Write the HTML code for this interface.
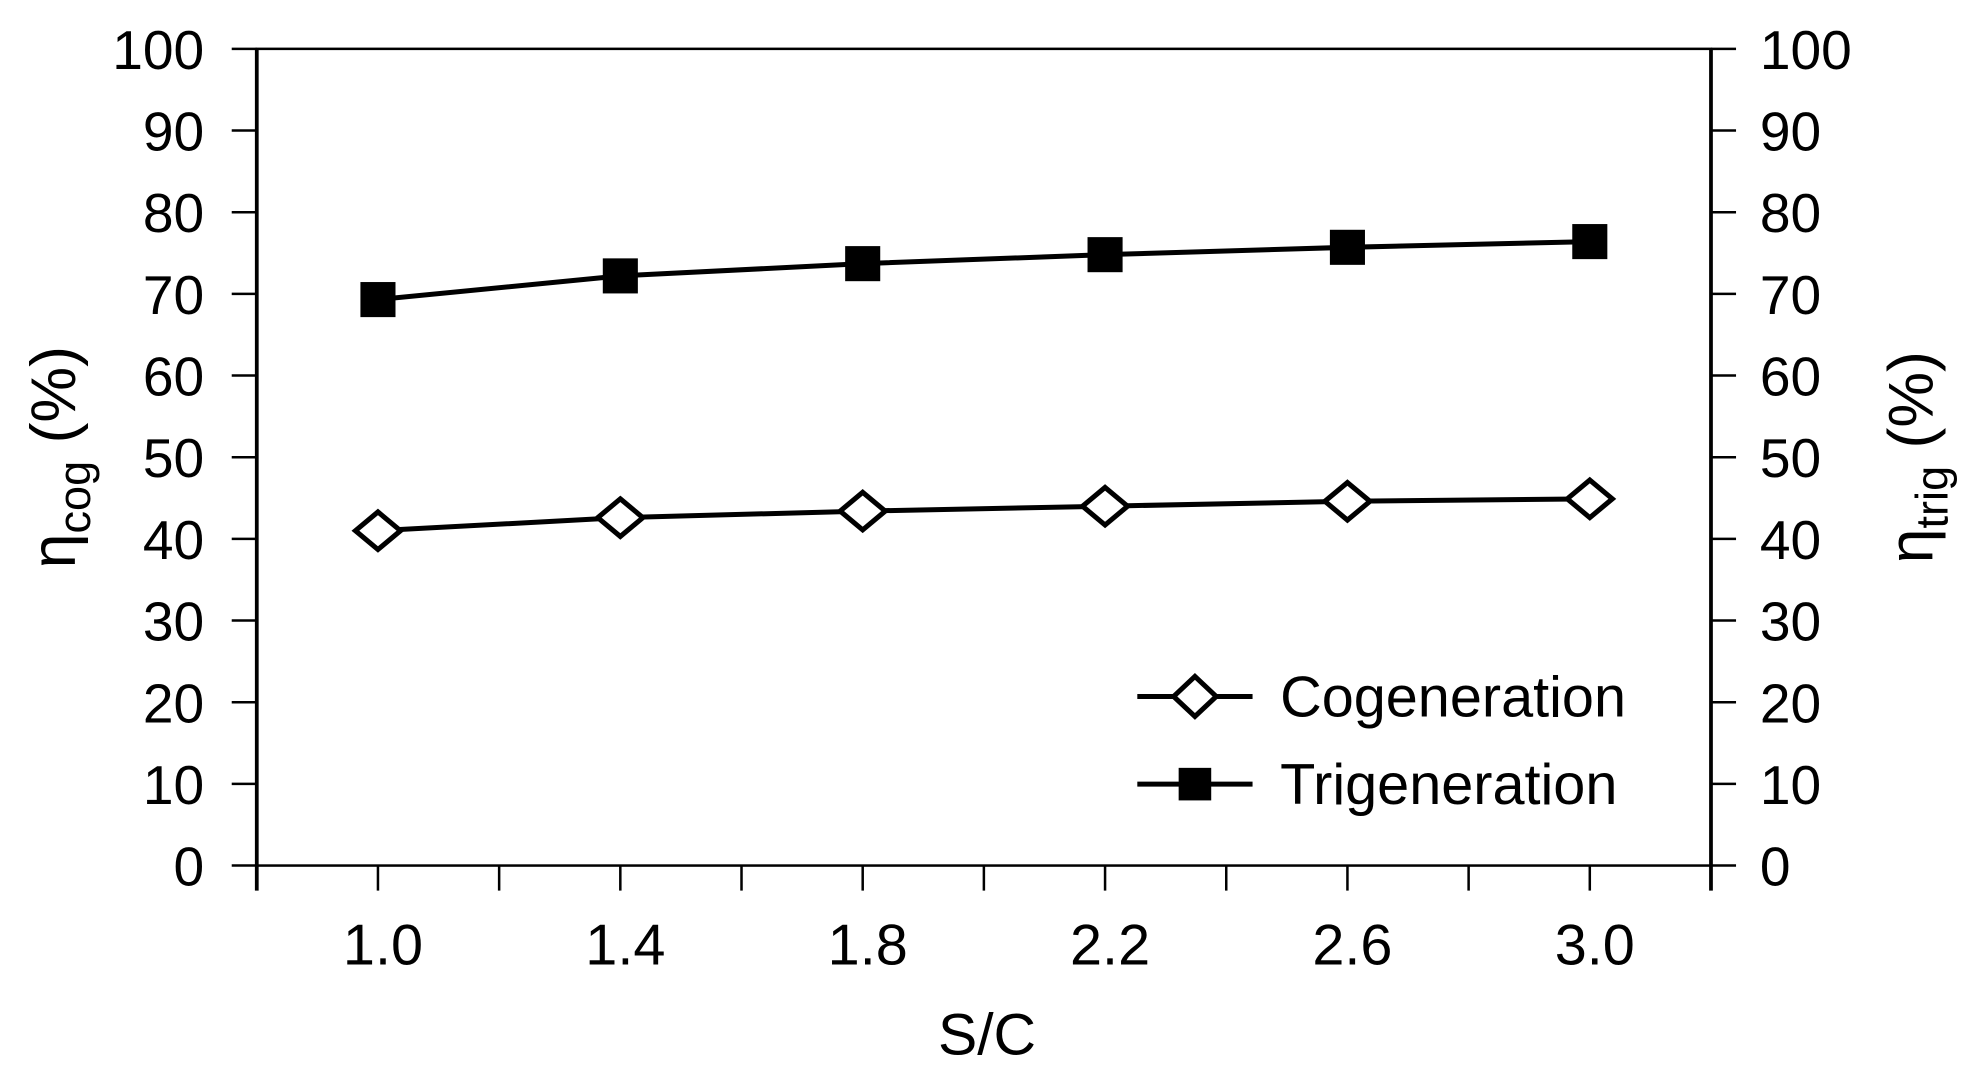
<!DOCTYPE html>
<html><head><meta charset="utf-8"><style>
html,body{margin:0;padding:0;background:#fff;}
svg{display:block;}
text{font-family:"Liberation Sans",Arial,sans-serif;fill:#000;}
</style></head><body>
<svg id="chart" width="1964" height="1078" viewBox="0 0 1568 860.6" preserveAspectRatio="none" xmlns="http://www.w3.org/2000/svg">
<g id="axes"></g>
<g id="series"></g>
<text x="788" y="842" font-size="47" text-anchor="middle">S/C</text>
<text transform="translate(60,365) rotate(-90)" font-size="50" text-anchor="middle">η<tspan font-size="36" dy="12">cog</tspan><tspan dy="-12"> (%)</tspan></text>
<text transform="translate(1543,365) rotate(-90)" font-size="50" text-anchor="middle">η<tspan font-size="36" dy="12">trig</tspan><tspan dy="-12"> (%)</tspan></text>
<g>
<line x1="908" y1="556" x2="1000" y2="556" stroke="#000" stroke-width="4"/>
<polygon points="954,540 971,556 954,572 937,556" fill="#fff" stroke="#000" stroke-width="4"/>
<text x="1022" y="572" font-size="46">Cogeneration</text>
<line x1="908" y1="626" x2="1000" y2="626" stroke="#000" stroke-width="4"/>
<rect x="941" y="613" width="26" height="26" fill="#000"/>
<text x="1022" y="642" font-size="46">Trigeneration</text>
</g>
</svg>
<script>
const categories = [1.0, 1.4, 1.8, 2.2, 2.6, 3.0];
const xTickLabels = ["1.0", "1.4", "1.8", "2.2", "2.6", "3.0"];
const cogeneration = [41.0, 42.6, 43.4, 44.0, 44.6, 44.9];
const trigeneration = [69.3, 72.2, 73.7, 74.8, 75.7, 76.4];
const yTicks = [0, 10, 20, 30, 40, 50, 60, 70, 80, 90, 100];

const NS = "http://www.w3.org/2000/svg";
const L = 205, R = 1366, T = 39, B = 691;
const xMin = 0.8, xMax = 3.2;
function xs(v){ return L + (v - xMin) / (xMax - xMin) * (R - L); }
function ys(v){ return B - v / 100 * (B - T); }
function mk(tag, attrs, parent){
  const e = document.createElementNS(NS, tag);
  for (const k in attrs) e.setAttribute(k, attrs[k]);
  parent.appendChild(e); return e;
}
const axes = document.getElementById('axes');
const series = document.getElementById('series');
let el;
el = mk('rect', {x:L, y:T, width:R-L, height:B-T, fill:'none', stroke:'#000', 'stroke-width':2}, axes);


el = mk('line', {x1:L, y1:T, x2:L, y2:B+20, stroke:'#000', 'stroke-width':3}, axes);


el = mk('line', {x1:R, y1:T, x2:R, y2:B+20, stroke:'#000', 'stroke-width':3}, axes);


yTicks.forEach(v => {
  const y = ys(v);
  el = mk('line', {x1:L-20, y1:y, x2:L, y2:y, stroke:'#000', 'stroke-width':2}, axes);
  
  
  el = mk('line', {x1:R, y1:y, x2:R+20, y2:y, stroke:'#000', 'stroke-width':2}, axes);
  
  
  el = mk('text', {x:163, y:y+16, 'font-size':44, 'text-anchor':'end'}, axes);
  el.textContent = String(v);
  
  
  el = mk('text', {x:1405, y:y+16, 'font-size':44}, axes);
  el.textContent = String(v);
  
  
});
for (let i = 1; i < 12; i++) {
  const x = xs(xMin + i * 0.2);
  el = mk('line', {x1:x, y1:B, x2:x, y2:B+20, stroke:'#000', 'stroke-width':2}, axes);
  
  
}
categories.forEach((c, i) => {
  el = mk('text', {x:xs(c)+4, y:770, 'font-size':46, 'text-anchor':'middle'}, axes);
  el.textContent = xTickLabels[i];
  
  
});
function line(vals, name){
  const pts = vals.map((v,i) => xs(categories[i]) + ',' + ys(v)).join(' ');
  const p = mk('polyline', {points:pts, fill:'none', stroke:'#000', 'stroke-width':4}, series);
  
  
}
line(trigeneration, 'trigeneration-line');
line(cogeneration, 'cogeneration-line');
trigeneration.forEach((v,i) => {
  const x = xs(categories[i]), y = ys(v);
  el = mk('rect', {x:x-14, y:y-14, width:28, height:28, fill:'#000'}, series);
  
  
});
cogeneration.forEach((v,i) => {
  const x = xs(categories[i]), y = ys(v);
  el = mk('polygon', {points:`${x},${y-15} ${x+18},${y} ${x},${y+15} ${x-18},${y}`, fill:'#fff', stroke:'#000', 'stroke-width':4}, series);
  
  
});
</script>
</body></html>
